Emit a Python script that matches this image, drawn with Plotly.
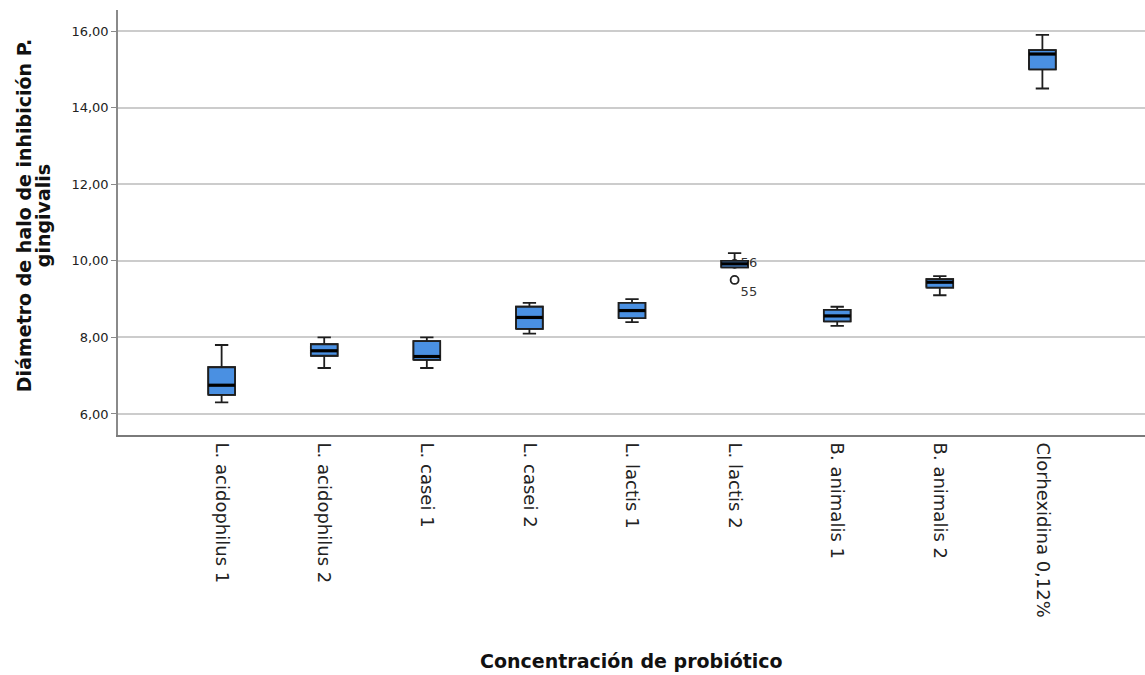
import plotly.graph_objects as go

# Inhibition halo diameter (mm) against P. gingivalis, per probiotic strain
categories = [
    "L. acidophilus 1", "L. acidophilus 2", "L. casei 1", "L. casei 2",
    "L. lactis 1", "L. lactis 2", "B. animalis 1", "B. animalis 2",
    "Clorhexidina 0,12%",
]
lower_whisker = [6.30, 7.20, 7.20, 8.10, 8.40, 9.83, 8.30, 9.10, 14.50]
q1_values = [6.50, 7.52, 7.41, 8.22, 8.50, 9.83, 8.42, 9.30, 15.00]
medians = [6.75, 7.65, 7.50, 8.52, 8.70, 9.92, 8.56, 9.44, 15.40]
q3_values = [7.22, 7.82, 7.90, 8.80, 8.90, 10.00, 8.72, 9.52, 15.50]
upper_whisker = [7.80, 8.00, 8.00, 8.90, 9.00, 10.20, 8.80, 9.60, 15.90]

# Outlying cases (case numbers shown next to the points)
outlier_group = ["L. lactis 2", "L. lactis 2"]
outlier_values = [9.50, 9.92]
outlier_ids = ["55", "56"]

y_ticks = [6, 8, 10, 12, 14, 16]

FONT = "DejaVu Sans, Arial, sans-serif"
BOX_FILL = "#4a90e2"
EDGE = "#1e1e1e"
BOX_WIDTH = 0.26

positions = list(range(len(categories)))
pos_of = {c: i for i, c in enumerate(categories)}

fig = go.Figure()

# Whiskers and caps from the summary statistics
fig.add_trace(go.Box(
    x=positions,
    q1=q1_values, median=medians, q3=q3_values,
    lowerfence=lower_whisker, upperfence=upper_whisker,
    width=BOX_WIDTH, whiskerwidth=0.5,
    fillcolor=BOX_FILL,
    line=dict(color=EDGE, width=1.8),
    boxpoints=False,
    showlegend=False,
))

# Outliers, drawn before the box bodies so a box can cover them
fig.add_trace(go.Scatter(
    x=[pos_of[g] for g in outlier_group],
    y=outlier_values,
    mode="markers+text",
    text=outlier_ids,
    textposition=["bottom right", "middle right"],
    textfont=dict(family=FONT, size=13, color="#333333"),
    marker=dict(symbol="circle-open", size=8, color="#222222",
                line=dict(width=1.8, color="#222222")),
    showlegend=False, hoverinfo="skip",
))

# Box bodies (interquartile range) and heavier median bars
half = BOX_WIDTH / 2
for i, lo, hi, m in zip(positions, q1_values, q3_values, medians):
    fig.add_trace(go.Scatter(
        x=[i - half, i + half, i + half, i - half, i - half],
        y=[lo, lo, hi, hi, lo],
        mode="lines", fill="toself", fillcolor=BOX_FILL,
        line=dict(color=EDGE, width=1.8),
        showlegend=False, hoverinfo="skip",
    ))
    fig.add_trace(go.Scatter(
        x=[i - half, i + half], y=[m, m],
        mode="lines", line=dict(color="#000000", width=3.2),
        showlegend=False, hoverinfo="skip",
    ))

fig.update_layout(
    width=1145, height=675,
    margin=dict(l=118, r=0, t=10, b=240),
    paper_bgcolor="white", plot_bgcolor="white",
    separators=",.",
    font=dict(family=FONT, color="#222222"),
    showlegend=False,
)

fig.update_xaxes(
    range=[-1.01, 9.0],
    tickmode="array", tickvals=positions, ticktext=categories,
    tickangle=90,
    tickfont=dict(family=FONT, size=18, color="#222222"),
    showgrid=False, zeroline=False,
    showline=True, linecolor="#7a7a7a", linewidth=2,
    ticks="", ticklabelstandoff=2,
)

fig.update_yaxes(
    range=[5.45, 16.55],
    tickmode="array", tickvals=y_ticks, tickformat=".2f",
    tickfont=dict(family=FONT, size=13, color="#222222"),
    showgrid=True, gridcolor="#cccccc", gridwidth=1.5,
    zeroline=False,
    showline=True, linecolor="#8a8a8a", linewidth=1.5,
    ticks="outside", ticklen=5, tickcolor="#8a8a8a", tickwidth=1,
    ticklabelstandoff=0,
)

# Axis titles (the y title is set as two stacked lines)
title_font = dict(family=FONT, size=19, color="#111111", weight="bold")
for line, xpos in [("Diámetro de halo de inhibición P.", -0.0915),
                   ("gingivalis", -0.073)]:
    fig.add_annotation(
        text=line, xref="paper", yref="paper", x=xpos, y=0.515,
        xanchor="center", yanchor="middle", textangle=-90,
        showarrow=False, font=title_font,
    )
fig.add_annotation(
    text="Concentración de probiótico",
    xref="paper", yref="paper", x=0.5, y=-0.532,
    xanchor="center", yanchor="middle",
    showarrow=False, font=title_font,
)

fig.write_html("out.html")
